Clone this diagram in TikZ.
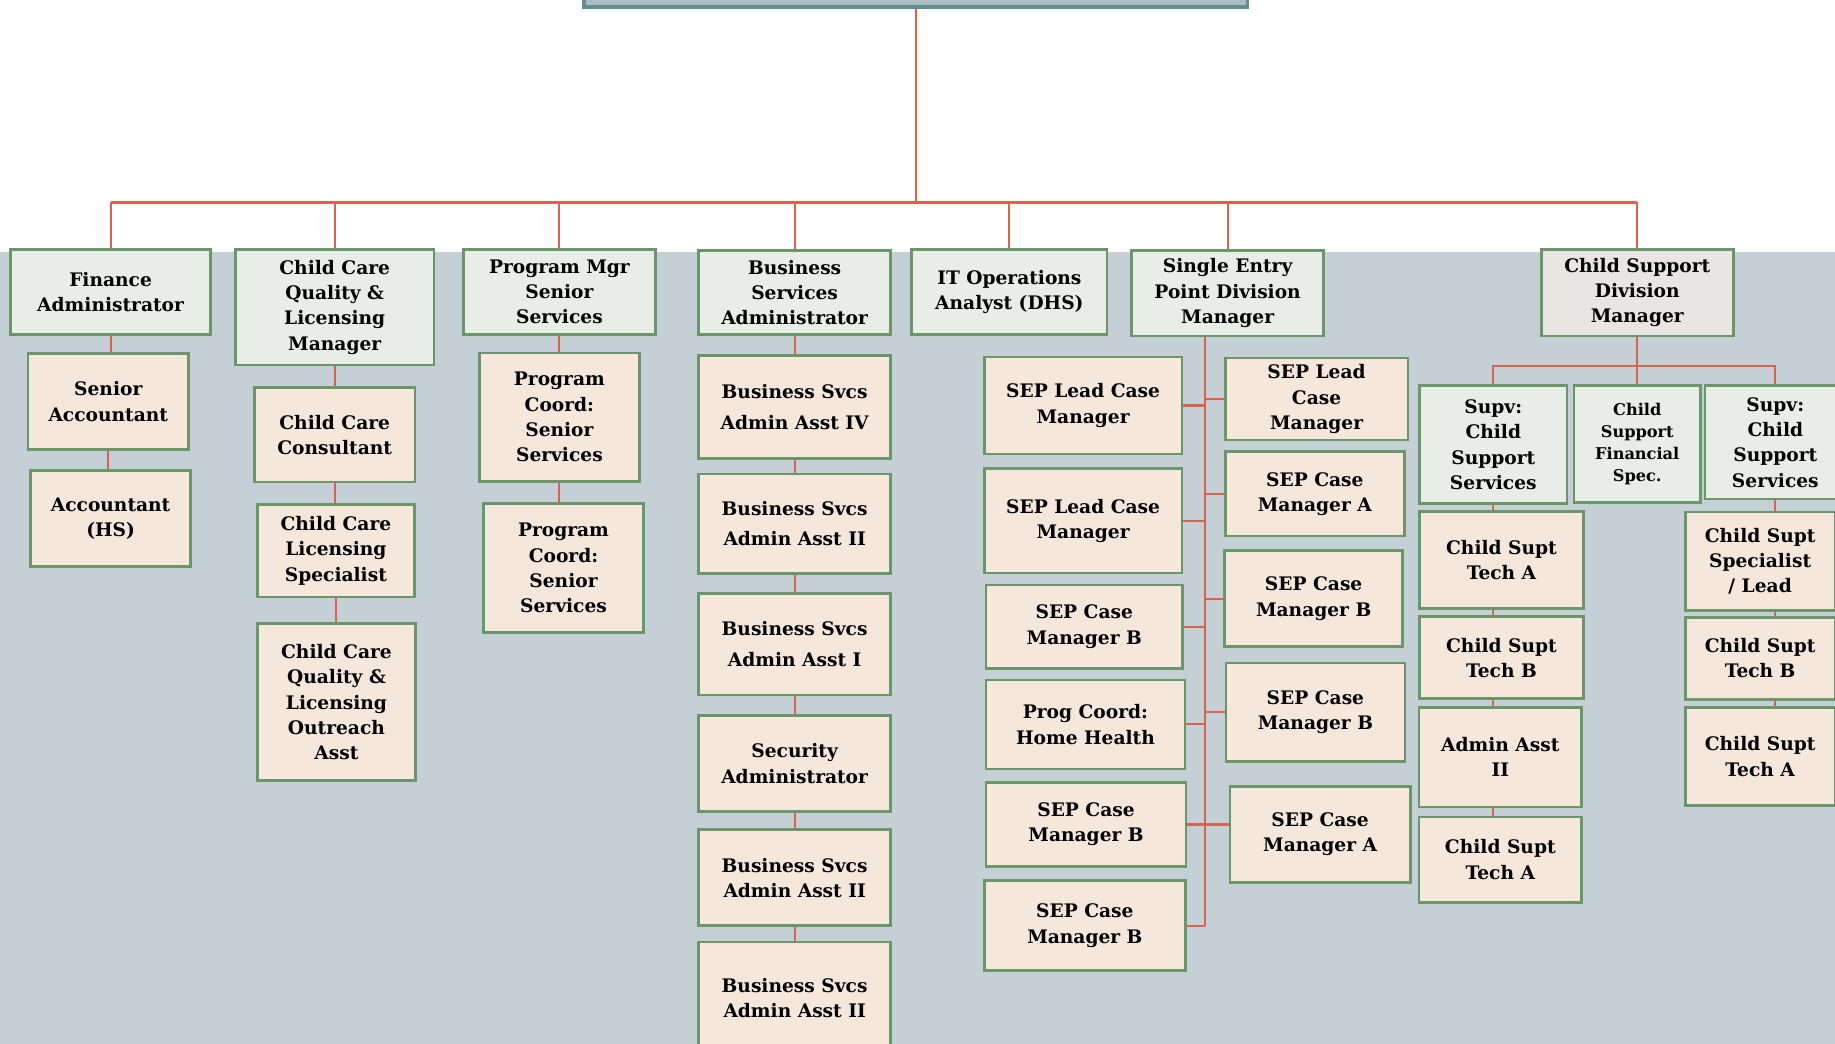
\documentclass[tikz,border=0pt]{standalone}
\usepackage{fontspec}
\setmainfont{DejaVu Serif}
\definecolor{chartbg}{HTML}{C5D0D6}
\definecolor{headfill}{HTML}{E8EDE8}
\definecolor{stafffill}{HTML}{F5E7DB}
\definecolor{divfill}{HTML}{E9E5E3}
\definecolor{postedge}{HTML}{6A966A}
\definecolor{linkred}{HTML}{D9644E}
\definecolor{topfill}{HTML}{AABCC4}
\definecolor{topedge}{HTML}{648C8C}
\tikzset{
		post/.style={draw=postedge, line width=0.75pt, align=center, inner sep=0pt,
			font=\bfseries\fontsize{5.3}{7.2}\selectfont},
		head post/.style={post, fill=headfill},
		staff post/.style={post, fill=stafffill},
		box wh/.style 2 args={minimum width=#1*0.11703mm, minimum height=#2*0.11703mm},
		link/.style={draw=linkred, line width=0.6pt}
	}

\begin{document}
\begin{tikzpicture}[x=0.11703mm, y=-0.11703mm]
				\useasboundingbox (0,0) rectangle (1568,892);
				\fill[chartbg] (0,215) rectangle (1568,892);

				% top of the chart, cut off by the page
				\node[draw=topedge, fill=topfill, line width=0.9pt, box wh={567}{80}] (dir) at (782.5,-34) {};

				% first row
				\node[head post, box wh={171}{73}]              (fa)    at (94.5,249.5)  {Finance\\Administrator};
				\node[head post, box wh={170}{99}]              (ccqlm) at (286,262.5)   {Child Care\\Quality \&\\Licensing\\Manager};
				\node[head post, box wh={164}{73}]              (pmss)  at (478,249.5)   {Program Mgr\\Senior\\Services};
				\node[head post, box wh={164}{72}]              (bsa)   at (679,250)     {Business\\Services\\Administrator};
				\node[head post, box wh={167}{73}]              (itoa)  at (862.5,249.5) {IT Operations\\Analyst (DHS)};
				\node[head post, box wh={164}{73}]              (sepdm) at (1049,250.5)  {Single Entry\\Point Division\\Manager};
				\node[head post, fill=divfill, box wh={164}{74}] (csdm) at (1399,250)    {Child Support\\Division\\Manager};

				% finance
				\node[staff post, box wh={137}{82}] (sa)  at (92.5,343) {Senior\\Accountant};
				\node[staff post, box wh={137}{82}] (acc) at (94.5,443) {Accountant\\(HS)};

				% child care
				\node[staff post, box wh={137}{81}]  (ccc)    at (286,371.5) {Child Care\\Consultant};
				\node[staff post, box wh={134}{79}]  (ccls)   at (287,470.5) {Child Care\\Licensing\\Specialist};
				\node[staff post, box wh={135}{134}] (ccqloa) at (287.5,600) {Child Care\\Quality \&\\Licensing\\Outreach\\Asst};

				% senior services
				\node[staff post, box wh={137}{110}] (pc1) at (478,356.5)   {Program\\Coord:\\Senior\\Services};
				\node[staff post, box wh={137}{110}] (pc2) at (481.5,485.5) {Program\\Coord:\\Senior\\Services};

				% business services
				\node[staff post, box wh={164}{88}] (bs1) at (679,348)   {Business Svcs\\[1.5pt]Admin Asst IV};
				\node[staff post, box wh={164}{85}] (bs2) at (679,447.5) {Business Svcs\\[1.5pt]Admin Asst II};
				\node[staff post, box wh={164}{87}] (bs3) at (679,550.5) {Business Svcs\\[1.5pt]Admin Asst I};
				\node[staff post, box wh={164}{82}] (bs4) at (679,652.5) {Security\\Administrator};
				\node[staff post, box wh={164}{82}] (bs5) at (679,750)   {Business Svcs\\Admin Asst II};
				\node[staff post, box wh={164}{96}] (bs6) at (679,853)   {Business Svcs\\Admin Asst II};

				% single entry point
				\node[staff post, box wh={169}{83}] (sepl1) at (925.5,346.5) {SEP Lead Case\\Manager};
				\node[staff post, box wh={169}{89}] (sepl2) at (925.5,445)   {SEP Lead Case\\Manager};
				\node[staff post, box wh={168}{71}] (sepl3) at (926.5,535.5) {SEP Case\\Manager B};
				\node[staff post, box wh={170}{76}] (sepl4) at (927.5,619)   {Prog Coord:\\Home Health};
				\node[staff post, box wh={171}{72}] (sepl5) at (928,704.5)   {SEP Case\\Manager B};
				\node[staff post, box wh={172}{77}] (sepl6) at (927,791)     {SEP Case\\Manager B};
				\node[staff post, box wh={156}{70}] (sepr1) at (1125,341)    {SEP Lead\\Case\\Manager};
				\node[staff post, box wh={153}{72}] (sepr2) at (1123.5,422)  {SEP Case\\Manager A};
				\node[staff post, box wh={152}{82}] (sepr3) at (1122.5,511.5) {SEP Case\\Manager B};
				\node[staff post, box wh={153}{84}] (sepr4) at (1124,608.5)  {SEP Case\\Manager B};
				\node[staff post, box wh={154}{82}] (sepr5) at (1128,713)    {SEP Case\\Manager A};

				% child support
				\node[head post, box wh={126}{101}] (supl) at (1276,380) {Supv:\\Child\\Support\\Services};
				\node[head post, box wh={108}{100}, font=\bfseries\fontsize{4.6}{6.3}\selectfont]
				                                    (csfs) at (1399,379.5) {Child\\Support\\Financial\\Spec.};
				\node[head post, box wh={120}{97}]  (supr) at (1517,378) {Supv:\\Child\\Support\\Services};
				\node[staff post, box wh={140}{83}] (cst1) at (1283,478.5) {Child Supt\\Tech A};
				\node[staff post, box wh={140}{70}] (cst2) at (1283,562)   {Child Supt\\Tech B};
				\node[staff post, box wh={139}{85}] (caa)  at (1282,647)   {Admin Asst\\II};
				\node[staff post, box wh={139}{73}] (cst3) at (1282,734.5) {Child Supt\\Tech A};
				\node[staff post, box wh={128}{84}] (css)  at (1504,479.5) {Child Supt\\Specialist\\/ Lead};
				\node[staff post, box wh={128}{70}] (cst4) at (1504,562.5) {Child Supt\\Tech B};
				\node[staff post, box wh={128}{84}] (cst5) at (1504,646.5) {Child Supt\\Tech A};

				% connectors
				\coordinate (bus)  at (782,173);
				\coordinate (sept) at (1030,287);
				\coordinate (sepb) at (1030,791);
				\coordinate (csbus) at (1399,313);

				\draw[link] (dir.south) -- (dir.south |- bus);
				\draw[link] (fa.north |- bus) -- (csdm.north |- bus);
				\draw[link] (fa.north)    -- (fa.north |- bus);
				\draw[link] (ccqlm.north) -- (ccqlm.north |- bus);
				\draw[link] (pmss.north)  -- (pmss.north |- bus);
				\draw[link] (bsa.north)   -- (bsa.north |- bus);
				\draw[link] (itoa.north)  -- (itoa.north |- bus);
				\draw[link] (sepdm.north) -- (sepdm.north |- bus);
				\draw[link] (csdm.north)  -- (csdm.north |- bus);

				\draw[link] (fa.south) -- (fa.south |- sa.north);
				\draw[link] (sa.south) -- (sa.south |- acc.north);

				\draw[link] (ccqlm.south) -- (ccqlm.south |- ccc.north);
				\draw[link] (ccc.south)   -- (ccc.south |- ccls.north);
				\draw[link] (ccls.south)  -- (ccls.south |- ccqloa.north);

				\draw[link] (pmss.south) -- (pmss.south |- pc1.north);
				\draw[link] (pc1.south)  -- (pc1.south |- pc2.north);

				\draw[link] (bsa.south) -- (bs1.north);
				\draw[link] (bs1.south) -- (bs2.north);
				\draw[link] (bs2.south) -- (bs3.north);
				\draw[link] (bs3.south) -- (bs4.north);
				\draw[link] (bs4.south) -- (bs5.north);
				\draw[link] (bs5.south) -- (bs6.north);

				\draw[link] (sept) -- (sepb);
				\draw[link] (sepl1.east) -- (sepl1.east -| sept);
				\draw[link] (sepl2.east) -- (sepl2.east -| sept);
				\draw[link] (sepl3.east) -- (sepl3.east -| sept);
				\draw[link] (sepl4.east) -- (sepl4.east -| sept);
				\draw[link] (sepl5.east) -- (sepr5.west |- sepl5.east);
				\draw[link] (sepl6.east) -- (sepl6.east -| sept);
				\draw[link] (sepr1.west) -- (sepr1.west -| sept);
				\draw[link] (sepr2.west) -- (sepr2.west -| sept);
				\draw[link] (sepr3.west) -- (sepr3.west -| sept);
				\draw[link] (sepr4.west) -- (sepr4.west -| sept);

				\draw[link] (csdm.south) -- (csfs.north);
				\draw[link] (supl.north) |- (csbus) -| (supr.north);
				\draw[link] (supl.south) -- (supl.south |- cst1.north);
				\draw[link] (cst1.south -| supl.south) -- (cst2.north -| supl.south);
				\draw[link] (cst2.south -| supl.south) -- (caa.north -| supl.south);
				\draw[link] (caa.south -| supl.south)  -- (cst3.north -| supl.south);
				\draw[link] (supr.south) -- (supr.south |- css.north);
				\draw[link] (css.south -| supr.south)  -- (cst4.north -| supr.south);
				\draw[link] (cst4.south -| supr.south) -- (cst5.north -| supr.south);
			\end{tikzpicture}
\end{document}
